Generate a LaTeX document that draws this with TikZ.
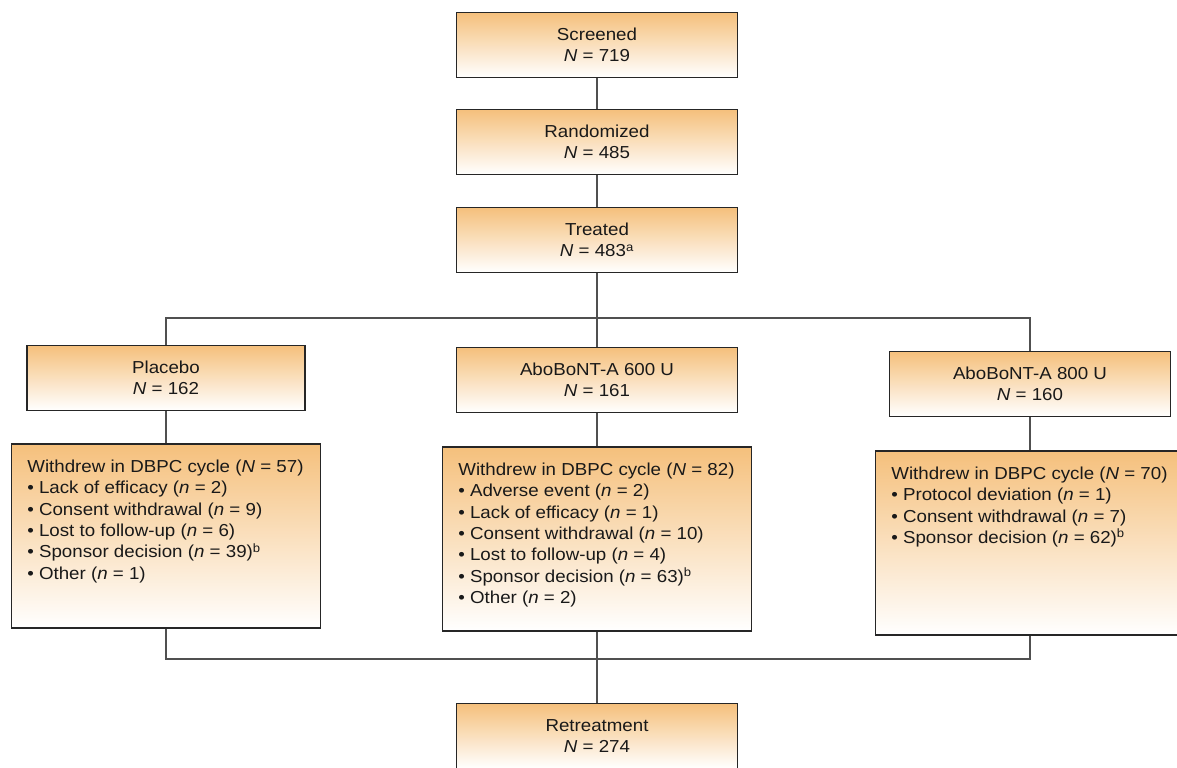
\documentclass[tikz,border=0pt]{standalone}
\usepackage{fontspec}
\setmainfont{Liberation Sans}[FakeStretch=1.08]
\usetikzlibrary{positioning}

\definecolor{boxorange}{RGB}{245,192,124}
\definecolor{boxmid}{RGB}{248,210,160}
\definecolor{boxlight}{RGB}{251,232,204}
\definecolor{edgegray}{RGB}{80,80,80}

\newcommand{\bigN}{\textit{N}}
\newcommand{\smalln}{\textit{n}}
\newcommand{\reasons}[1]{\parbox[c][114pt][t]{208pt}{\raggedright #1}}

\begin{document}
\begin{tikzpicture}[
  x=0.75pt, y=-0.75pt,
  every node/.style={font=\fontsize{13}{16}\selectfont, text=black!90},
  topbox/.style={draw=black!85, line width=1pt, top color=boxorange, middle color=boxlight,
    bottom color=white, align=center, minimum width=210.75pt, minimum height=48.75pt, inner sep=2pt},
  listbox/.style={draw=black!85, line width=1pt, top color=boxorange, middle color=boxmid,
    bottom color=white, inner xsep=12pt, inner ysep=12pt},
  link/.style={draw=edgegray, line width=1pt}
]
\path[use as bounding box, clip] (0,0) rectangle (1177,767);

% Top chain
\node[topbox] (screen) at (597,45)  {Screened\\\bigN{} = 719};
\node[topbox] (rand)   at (597,142) {Randomized\\\bigN{} = 485};
\node[topbox] (treat)  at (597,240) {Treated\\\bigN{} = 483\textsuperscript{a}};

% Arms
\node[topbox, minimum width=208.5pt] (plac) at (166,378)  {Placebo\\\bigN{} = 162};
\node[topbox] (d600) at (597,380)  {AboBoNT-A 600 U\\\bigN{} = 161};
\node[topbox] (d800) at (1030,384) {AboBoNT-A 800 U\\\bigN{} = 160};

% Withdrawals
\node[listbox] (wplac) at (166,536) {\reasons{Withdrew in DBPC cycle (\bigN{} = 57)\\
  \textbullet{} Lack of efficacy (\smalln{} = 2)\\
  \textbullet{} Consent withdrawal (\smalln{} = 9)\\
  \textbullet{} Lost to follow-up (\smalln{} = 6)\\
  \textbullet{} Sponsor decision (\smalln{} = 39)\textsuperscript{b}\\
  \textbullet{} Other (\smalln{} = 1)}};
\node[listbox] (w600) at (597,539) {\reasons{Withdrew in DBPC cycle (\bigN{} = 82)\\
  \textbullet{} Adverse event (\smalln{} = 2)\\
  \textbullet{} Lack of efficacy (\smalln{} = 1)\\
  \textbullet{} Consent withdrawal (\smalln{} = 10)\\
  \textbullet{} Lost to follow-up (\smalln{} = 4)\\
  \textbullet{} Sponsor decision (\smalln{} = 63)\textsuperscript{b}\\
  \textbullet{} Other (\smalln{} = 2)}};
\node[listbox] (w800) at (1030,543) {\reasons{Withdrew in DBPC cycle (\bigN{} = 70)\\
  \textbullet{} Protocol deviation (\smalln{} = 1)\\
  \textbullet{} Consent withdrawal (\smalln{} = 7)\\
  \textbullet{} Sponsor decision (\smalln{} = 62)\textsuperscript{b}}};

% Retreatment
\node[topbox] (retreat) at (597,736) {Retreatment\\\bigN{} = 274};

% Connectors
\coordinate (split) at (597,318);
\coordinate (merge) at (597,659);
\draw[link] (screen) -- (rand);
\draw[link] (rand) -- (treat);
\draw[link] (treat) -- (d600);
\draw[link] (plac.north) |- (split) -| (d800.north);
\draw[link] (plac) -- (wplac);
\draw[link] (d600) -- (w600);
\draw[link] (d800) -- (w800);
\draw[link] (wplac.south) |- (merge) -| (w800.south);
\draw[link] (w600) -- (retreat);
\end{tikzpicture}
\end{document}
